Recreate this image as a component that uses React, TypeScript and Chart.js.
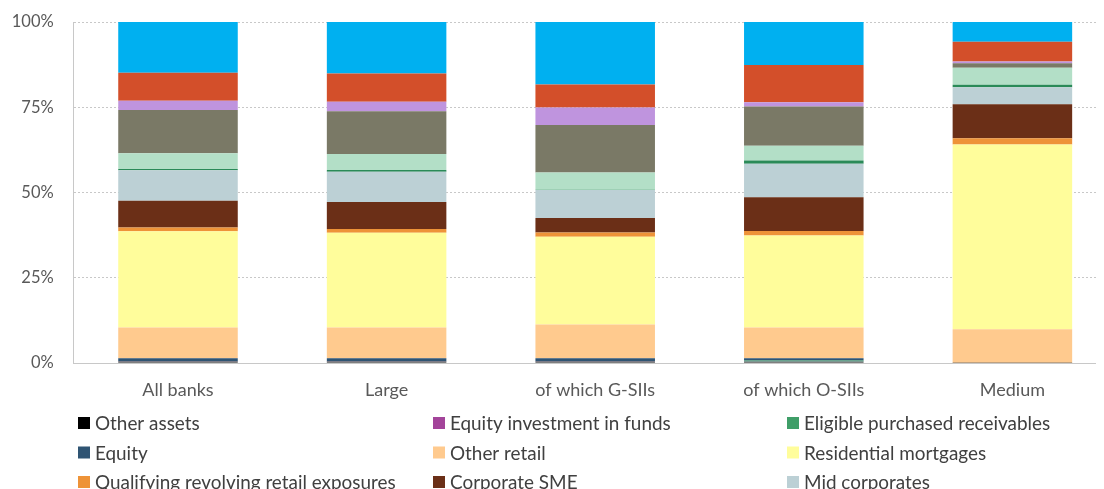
import React, { useEffect, useRef } from "react";
import { Chart, registerables } from "chart.js";

Chart.register(...registerables);

const categories = ["All banks", "Large", "of which G-SIIs", "of which O-SIIs", "Medium"];

const seriesNames = [
  "Other assets",
  "Equity investment in funds",
  "Eligible purchased receivables",
  "Equity",
  "Other retail",
  "Residential mortgages",
  "Qualifying revolving retail exposures",
  "Corporate SME",
  "Mid corporates",
  "Specialised lending",
  "Large corporates",
  "Institutions",
  "Securitisation positions",
  "Other corporates",
  "Central governments and central banks",
];

const seriesColors = [
  "#000000",
  "#A3449A",
  "#3F9E68",
  "#2F5473",
  "#FFCA8E",
  "#FFFD9B",
  "#EE9338",
  "#6B2F17",
  "#BCD0D5",
  "#2A8A58",
  "#B3DFC7",
  "#7A7966",
  "#BF94DE",
  "#D34F2A",
  "#00B0F0",
];

// values in % of total, per category, one array per series
const otherAssets = [0.4, 0.4, 0.4, 0.3, 0.05];
const equityInvFunds = [0.05, 0.05, 0.05, 0.05, 0.0];
const eligiblePurchRec = [0.05, 0.05, 0.05, 0.4, 0.0];
const equity = [0.9, 0.9, 0.9, 0.65, 0.05];
const otherRetail = [9.0, 9.0, 9.9, 9.0, 9.8];
const residentialMortgages = [28.2, 27.8, 25.7, 27.0, 54.2];
const qrre = [1.1, 1.1, 1.3, 1.3, 1.8];
const corporateSME = [7.9, 7.9, 4.2, 9.9, 10.0];
const midCorporates = [8.9, 8.9, 8.2, 9.8, 5.0];
const specialisedLending = [0.4, 0.5, 0.1, 1.0, 0.7];
const largeCorporates = [4.6, 4.7, 5.1, 4.3, 5.0];
const institutions = [12.7, 12.5, 13.9, 11.5, 1.3];
const securitisation = [2.7, 2.8, 5.1, 1.3, 0.5];
const otherCorporates = [8.2, 8.3, 6.8, 10.9, 5.8];
const centralGovts = [14.9, 15.1, 18.3, 12.6, 5.8];

const seriesValues = [
  otherAssets,
  equityInvFunds,
  eligiblePurchRec,
  equity,
  otherRetail,
  residentialMortgages,
  qrre,
  corporateSME,
  midCorporates,
  specialisedLending,
  largeCorporates,
  institutions,
  securitisation,
  otherCorporates,
  centralGovts,
];

const yTicks = [0, 25, 50, 75, 100];

const FONT = "Lato, 'Open Sans', sans-serif";

const gridLegendPlugin = {
  id: "gridLegend",
  afterDraw(chart: any) {
    const ctx = chart.ctx;
    const ds = chart.data.datasets;
    const colX = [70, 425, 779];
    const rowY0 = 415;
    const rowH = 29.5;
    ctx.save();
    ctx.font = "18.9px " + FONT;
    ctx.textBaseline = "middle";
    ctx.textAlign = "left";
    ds.forEach((d: any, i: number) => {
      const col = i % 3;
      const row = Math.floor(i / 3);
      const x = colX[col];
      const y = rowY0 + row * rowH;
      ctx.fillStyle = d.backgroundColor;
      ctx.fillRect(x, y - 6, 12, 12);
      ctx.fillStyle = "#404040";
      ctx.fillText(d.label, x + 17, y + 1);
    });
    ctx.restore();
  },
};

export default function App() {
  const ref = useRef<HTMLCanvasElement>(null);

  useEffect(() => {
    document.body.style.overflow = "hidden";
    const canvas = ref.current;
    if (!canvas) return;
    const chart: any = new Chart(canvas, {
      type: "bar",
      data: {
        labels: categories,
        datasets: seriesNames.map((name, i) => ({
          label: name,
          data: seriesValues[i],
          backgroundColor: seriesColors[i],
          borderWidth: 0,
          categoryPercentage: 1,
          barPercentage: 0.573,
        })),
      },
      options: {
        responsive: false,
        animation: false,
        layout: { padding: { left: 0, right: 11.3, top: 14, bottom: 205 } },
        plugins: {
          legend: { display: false },
          tooltip: { enabled: false },
        },
        scales: {
          x: {
            stacked: true,
            grid: { display: false, drawTicks: false },
            border: { display: true, color: "#C8C8C8", dash: [2, 2] },
            ticks: {
              color: "#595959",
              font: { family: FONT, size: 18 },
              padding: 16,
              maxRotation: 0,
            },
            afterFit(scale: any) {
              scale.height = 40;
            },
          },
          y: {
            stacked: true,
            min: 0,
            max: 100,
            afterBuildTicks(scale: any) {
              scale.ticks = yTicks.map((v) => ({ value: v }));
            },
            grid: {
              color: "#C8C8C8",
              drawTicks: true,
              tickLength: 20,
              tickColor: "rgba(0,0,0,0)",
              tickBorderDash: [2, 2],
            },
            border: { display: true, color: "#C8C8C8", dash: [2, 2] },
            ticks: {
              color: "#595959",
              font: { family: FONT, size: 16.5 },
              padding: 0,
              callback: (v: any) => v + "%",
            },
            afterFit(scale: any) {
              scale.width = 65.7;
            },
          },
        },
      },
      plugins: [gridLegendPlugin],
    });
    return () => chart.destroy();
  }, []);

  return (
    <div style={{ position: "relative", width: 1120, height: 600 }}>
      <canvas ref={ref} width={1120} height={600} style={{ display: "block" }} />
    </div>
  );
}
